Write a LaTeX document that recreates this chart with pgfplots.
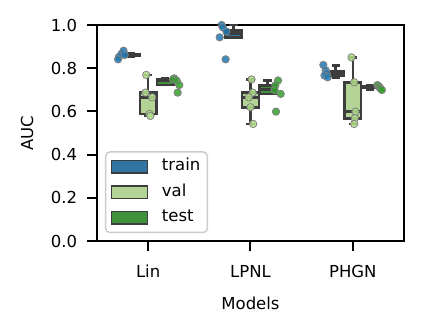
\documentclass[border=0pt]{standalone}
\usepackage{fontspec}
\setmainfont{DejaVu Sans}
\usepackage{pgfplots}
\pgfplotsset{compat=1.18}
\usepgfplotslibrary{statistics}
\definecolor{trainbox}{HTML}{3274A1}
\definecolor{valbox}{HTML}{B3D495}
\definecolor{testbox}{HTML}{40913B}
\definecolor{trainpt}{HTML}{1F78B4}
\definecolor{valpt}{HTML}{B2DF8A}
\definecolor{testpt}{HTML}{33A02C}
\definecolor{edge}{HTML}{3D3D3D}
\newcommand{\figfont}{\fontsize{16.5bp}{19bp}\selectfont}
% box: position, fill, lower whisker, q1, median, q3, upper whisker
\newcommand{\bx}[7]{\addplot[forget plot, draw=edge, fill=#2, line width=2.6bp,
  boxplot/draw direction=y,
  boxplot prepared={draw position=#1, lower whisker=#3, lower quartile=#4,
  median=#5, upper quartile=#6, upper whisker=#7, box extend=0.163, whisker extend=0.08}]
  coordinates {};}
\newcommand{\pts}[2]{\addplot[forget plot, only marks, mark=*, mark size=3.7bp,
  mark options={fill=#1, draw=gray, line width=0.8bp, fill opacity=0.85}] coordinates {#2};}
\begin{document}
\begin{tikzpicture}
\begin{axis}[
  at={(0,0)}, anchor=south west,
  scale only axis, width=307bp, height=216bp,
  xmin=-0.5, xmax=2.5, ymin=0, ymax=1,
  xtick={0,1,2}, xticklabels={Lin,LPNL,PHGN},
  ytick={0,0.2,0.4,0.6,0.8,1.0},
  xtick pos=bottom, ytick pos=left,
  tick align=outside, major tick length=9.7bp,
  axis line style={line width=2bp}, tick style={line width=2bp, black},
  /pgf/number format/.cd, fixed, fixed zerofill, precision=1, assume math mode=true, /pgfplots/.cd,
  tick label style={font=\figfont},
  label style={font=\figfont},
  xticklabel style={anchor=base, inner sep=0pt, yshift=-27bp},
  yticklabel style={anchor=east, inner sep=0pt, xshift=-10bp},
  xlabel={Models}, ylabel={AUC},
  xlabel style={at={(axis description cs:0.5,-0.319)}, anchor=base},
  ylabel style={at={(axis description cs:-0.228,0.5)}, anchor=center},
  legend style={at={(axis description cs:0.026,0.036)}, anchor=south west,
    draw=black!20, line width=1.5bp, rounded corners=4bp, fill=white,
    font=\figfont, inner xsep=5bp, inner ysep=5bp, row sep=6bp,
    nodes={inner sep=2bp, text height=12bp, text depth=3.5bp},
    /tikz/every odd column/.append style={column sep=12bp},
    cells={anchor=west}},
  legend image code/.code={\draw[sharp corners, #1] (0bp,-6.2bp) rectangle (36bp,6.2bp);},
]
\bx{-0.1667}{trainbox}{0.853}{0.856}{0.861}{0.866}{0.868}
\bx{0}{valbox}{0.579}{0.588}{0.665}{0.687}{0.769}
\bx{0.1667}{testbox}{0.722}{0.722}{0.742}{0.750}{0.753}
\bx{0.8333}{trainbox}{0.943}{0.943}{0.962}{0.975}{1.0}
\bx{1}{valbox}{0.542}{0.619}{0.665}{0.687}{0.748}
\bx{1.1667}{testbox}{0.681}{0.681}{0.700}{0.720}{0.743}
\bx{1.8333}{trainbox}{0.758}{0.766}{0.776}{0.786}{0.812}
\bx{2}{valbox}{0.542}{0.568}{0.599}{0.735}{0.850}
\bx{2.1667}{testbox}{0.699}{0.708}{0.711}{0.716}{0.722}
\pts{trainpt}{(-0.285,0.853) (-0.294,0.841) (-0.262,0.866) (-0.240,0.881) (-0.230,0.861)
  (0.718,1.0) (0.730,0.989) (0.764,0.970) (0.699,0.943) (0.757,0.841)
  (1.712,0.815) (1.735,0.790) (1.744,0.776) (1.723,0.766) (1.754,0.758)}
\pts{valpt}{(-0.019,0.769) (-0.026,0.687) (0.039,0.665) (0.013,0.588) (0.022,0.579)
  (1.010,0.748) (1.022,0.687) (0.983,0.665) (1.000,0.619) (1.026,0.542)
  (1.987,0.850) (2.013,0.735) (2.026,0.599) (2.019,0.568) (2.013,0.542)}
\pts{testpt}{(0.255,0.753) (0.243,0.748) (0.279,0.742) (0.304,0.722) (0.288,0.687)
  (1.269,0.743) (1.243,0.721) (1.236,0.699) (1.295,0.681) (1.249,0.599)
  (2.240,0.722) (2.252,0.716) (2.262,0.711) (2.272,0.705) (2.284,0.699)}
\addlegendimage{fill=trainbox, draw=edge, line width=1.2bp}
\addlegendentry{train}
\addlegendimage{fill=valbox, draw=edge, line width=1.2bp}
\addlegendentry{val}
\addlegendimage{fill=testbox, draw=edge, line width=1.2bp}
\addlegendentry{test}
\end{axis}
\pgfresetboundingbox
\path[use as bounding box] (-97bp,-87bp) rectangle (326bp,241bp);
\end{tikzpicture}
\end{document}
